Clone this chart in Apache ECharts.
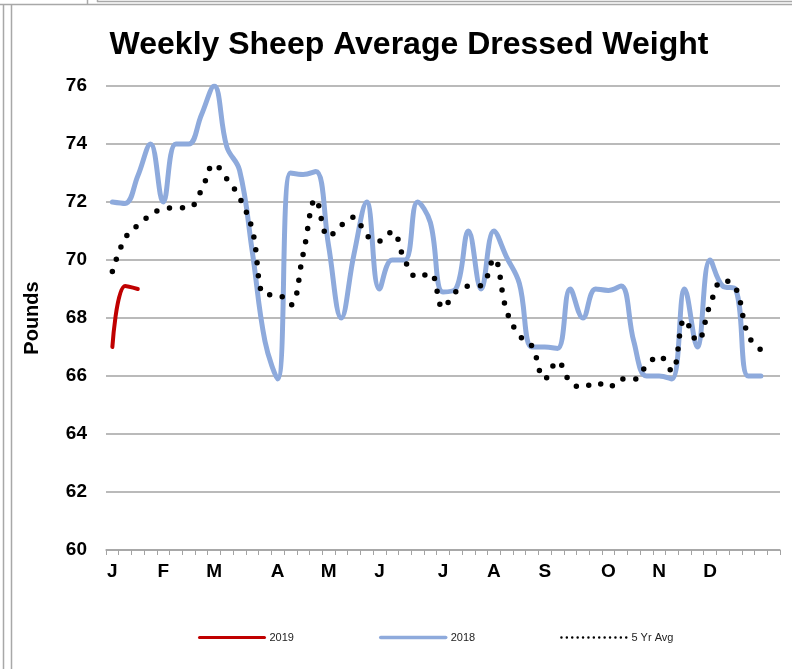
<!DOCTYPE html>
<html>
<head>
<meta charset="utf-8">
<script src="https://cdn.jsdelivr.net/npm/echarts@6/dist/echarts.min.js"></script>
<style>
html,body{margin:0;padding:0;background:#fff;}
#c{width:792px;height:669px;}
</style>
</head>
<body>
<div id="c"></div>
<script>
// 53 weekly category slots, month initials at month starts
const weekLabels = ['J','','','','F','','','','M','','','','','A','','','','M','','','','J','','','','','J','','','','A','','','','S','','','','','O','','','','N','','','','D','','','','',''];
const yTicks = [60, 62, 64, 66, 68, 70, 72, 74, 76];
const s2019 = [67.0, 69.1, 69.0];
const s2018 = [72.0, 71.95, 72.9, 74.0, 72.0, 74.0, 74.0, 75.0, 76.0, 73.9,
  73.1, 70.3, 67.2, 65.9, 73.0, 72.95, 73.05, 70.5, 68.0, 70.2,
  72.0, 69.0, 70.0, 70.0, 72.0, 71.3, 68.9, 69.0, 71.0, 69.0,
  71.0, 70.1, 69.2, 67.0, 67.0, 66.95, 69.0, 68.0, 69.0, 68.95,
  69.1, 67.2, 66.0, 66.0, 65.9, 69.0, 67.0, 70.0, 69.1, 69.0,
  66.0, 66.0];
const avg5 = [69.6, 70.75, 71.2, 71.55, 71.77, 71.8, 71.8, 72.4, 73.3, 72.8,
  72.15, 71.05, 68.8, 68.8, 68.45, 70.2, 72.1, 70.8, 71.2, 71.48,
  70.85, 70.65, 70.98, 69.98, 69.4, 69.55, 68.35, 68.9, 69.1, 69.12,
  70.05, 68.25, 67.4, 67.02, 65.9, 66.5, 65.8, 65.6, 65.78, 65.6,
  65.9, 65.88, 66.35, 66.7, 66.17, 67.95, 67.2, 68.45, 69.3, 69.05,
  67.4, 66.9];
const seriesNames = ['2019', '2018', '5 Yr Avg'];

const chart = echarts.init(document.getElementById('c'), null, {renderer: 'canvas'});
const gray = '#a3a3a3';
const font = 'Liberation Sans, Arial, sans-serif';
chart.setOption({
  animation: false,
  backgroundColor: '#fff',
  title: {
    text: 'Weekly Sheep Average Dressed Weight',
    left: 409, top: 29, padding: 0, textAlign: 'center',
    textStyle: {fontFamily: font, fontWeight: 'bold', fontSize: 32, color: '#000'}
  },
  grid: {left: 106, right: 12, top: 86, bottom: 119, containLabel: false},
  legend: {
    left: 193, top: 627, itemWidth: 65, itemHeight: 14, itemGap: 85,
    textStyle: {fontFamily: font, fontSize: 11, color: '#222'},
    data: [
      {name: seriesNames[0], itemStyle: {opacity: 0}, lineStyle: {width: 3, opacity: 1}},
      {name: seriesNames[1], itemStyle: {opacity: 0}, lineStyle: {width: 3.5, opacity: 1}},
      {name: seriesNames[2], itemStyle: {opacity: 0}, lineStyle: {width: 2.5, opacity: 1, type: [0, 5.4], cap: 'round'}}
    ]
  },
  xAxis: {
    type: 'category', data: weekLabels, boundaryGap: true,
    axisLine: {lineStyle: {color: gray, width: 1.5}},
    axisTick: {show: true, interval: 0, length: 5, lineStyle: {color: gray, width: 1}},
    axisLabel: {interval: 0, margin: 12, fontFamily: font, fontWeight: 'bold', fontSize: 19, color: '#000'},
    splitLine: {show: false}
  },
  yAxis: {
    type: 'value', min: yTicks[0], max: yTicks[yTicks.length - 1], interval: 2,
    name: 'Pounds', nameLocation: 'middle', nameGap: 64, nameRotate: 90,
    nameTextStyle: {fontFamily: font, fontWeight: 'bold', fontSize: 20, color: '#000'},
    axisLine: {show: false}, axisTick: {show: false},
    axisLabel: {margin: 19, fontFamily: font, fontWeight: 'bold', fontSize: 19, color: '#000'},
    splitLine: {lineStyle: {color: gray, width: 1.5}}
  },
  series: [
    {name: seriesNames[0], type: 'line', data: s2019, smooth: 0.4, symbol: 'none',
     lineStyle: {color: '#c00000', width: 4, cap: 'round'}, itemStyle: {color: '#c00000'}},
    {name: seriesNames[1], type: 'line', data: s2018, smooth: 0.4, symbol: 'none',
     lineStyle: {color: '#8eaadc', width: 5, cap: 'round', join: 'round'}, itemStyle: {color: '#8eaadc'}},
    {name: seriesNames[2], type: 'line', data: avg5, smooth: 0.4, symbol: 'none',
     lineStyle: {color: '#000', width: 5.5, type: [0, 13], cap: 'round'}, itemStyle: {color: '#000'}}
  ],
  graphic: [
    {type: 'line', shape: {x1: 0, y1: 4.5, x2: 792, y2: 4.5}, style: {stroke: '#a8a8a8', lineWidth: 1.5}, silent: true},
    {type: 'line', shape: {x1: 3.5, y1: 4, x2: 3.5, y2: 669}, style: {stroke: '#a8a8a8', lineWidth: 1.5}, silent: true},
    {type: 'line', shape: {x1: 11.5, y1: 4, x2: 11.5, y2: 669}, style: {stroke: '#a8a8a8', lineWidth: 1.5}, silent: true},
    {type: 'line', shape: {x1: 87.5, y1: 0, x2: 87.5, y2: 4}, style: {stroke: '#a8a8a8', lineWidth: 1.5}, silent: true},
    {type: 'line', shape: {x1: 97.5, y1: 0, x2: 97.5, y2: 2}, style: {stroke: '#a8a8a8', lineWidth: 1.5}, silent: true},
    {type: 'line', shape: {x1: 97, y1: 1.5, x2: 792, y2: 1.5}, style: {stroke: '#a8a8a8', lineWidth: 1.5}, silent: true}
  ]
});
</script>
</body>
</html>
